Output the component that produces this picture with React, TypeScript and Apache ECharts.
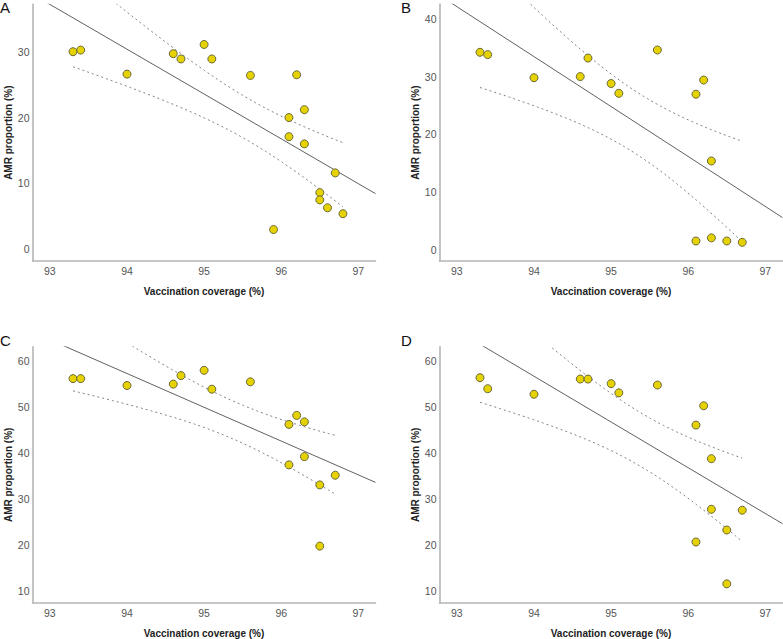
import React, { useEffect, useRef } from 'react';
import * as echarts from 'echarts';

// Panel A
const xA = [93.3, 93.4, 94.0, 94.6, 94.7, 95.0, 95.1, 95.6, 96.2, 96.1, 96.3, 96.1, 96.3, 96.7, 96.5, 96.5, 96.6, 96.8, 95.9];
const yA = [30.0, 30.25, 26.6, 29.7, 28.9, 31.1, 28.9, 26.4, 26.5, 20.0, 21.2, 17.1, 16.0, 11.6, 8.6, 7.5, 6.3, 5.4, 3.0];
// Panel B
const xB = [93.3, 93.4, 94.0, 94.6, 94.7, 95.0, 95.1, 95.6, 96.1, 96.2, 96.3, 96.1, 96.3, 96.5, 96.7];
const yB = [34.2, 33.8, 29.8, 30.0, 33.2, 28.8, 27.1, 34.6, 26.95, 29.4, 15.4, 1.56, 2.1, 1.56, 1.33];
// Panel C
const xC = [93.3, 93.4, 94.0, 94.6, 94.7, 95.0, 95.1, 95.6, 96.2, 96.1, 96.3, 96.3, 96.1, 96.7, 96.5, 96.5];
const yC = [56.1, 56.1, 54.6, 54.9, 56.75, 57.9, 53.8, 55.4, 48.1, 46.15, 46.7, 39.15, 37.35, 35.1, 33.0, 19.7];
// Panel D
const xD = [93.3, 93.4, 94.0, 94.6, 94.7, 95.0, 95.1, 95.6, 96.2, 96.1, 96.3, 96.3, 96.7, 96.5, 96.1, 96.5];
const yD = [56.3, 53.9, 52.7, 56.0, 56.0, 55.0, 53.0, 54.7, 50.2, 46.0, 38.7, 27.7, 27.5, 23.2, 20.6, 11.5];

const panelLabels = ['A', 'B', 'C', 'D'];
const xTicks = [93, 94, 95, 96, 97];
const yTicksA = [0, 10, 20, 30];
const yTicksB = [0, 10, 20, 30, 40];
const yTicksCD = [10, 20, 30, 40, 50, 60];
const xTitle = 'Vaccination coverage (%)';
const yTitle = 'AMR proportion (%)';

const FONT = '"Liberation Sans", Arial, sans-serif';

function tQuantile975(df: number) {
  const z = 1.959964;
  const z3 = z * z * z, z5 = z3 * z * z, z7 = z5 * z * z;
  return z + (z3 + z) / (4 * df) + (5 * z5 + 16 * z3 + 3 * z) / (96 * df * df) +
    (3 * z7 + 19 * z5 + 17 * z3 - 15 * z) / (384 * df * df * df);
}

function regress(xs: number[], ys: number[]) {
  const n = xs.length;
  const mx = xs.reduce((a, b) => a + b, 0) / n;
  const my = ys.reduce((a, b) => a + b, 0) / n;
  let sxx = 0, sxy = 0, syy = 0;
  for (let i = 0; i < n; i++) {
    sxx += (xs[i] - mx) ** 2;
    sxy += (xs[i] - mx) * (ys[i] - my);
    syy += (ys[i] - my) ** 2;
  }
  const b = sxy / sxx;
  const a = my - b * mx;
  const s = Math.sqrt((syy - b * sxy) / (n - 2));
  const t = tQuantile975(n - 2);
  return { n, mx, sxx, a, b, s, t, xmin: Math.min(...xs), xmax: Math.max(...xs) };
}

const panels = [
  { xs: xA, ys: yA, yTicks: yTicksA, yMin: -1.78, yMax: 37.2, left: 32.5, top: 4.3, height: 256.7 },
  { xs: xB, ys: yB, yTicks: yTicksB, yMin: -1.9, yMax: 42.5, left: 439.5, top: 4.3, height: 256.7 },
  { xs: xC, ys: yC, yTicks: yTicksCD, yMin: 7.34, yMax: 63.03, left: 32.5, top: 346.7, height: 257.3 },
  { xs: xD, ys: yD, yTicks: yTicksCD, yMin: 7.34, yMax: 63.03, left: 439.5, top: 346.7, height: 257.3 },
];
const X_MIN = 92.775;
const X_MAX = 97.222;
const GRID_W = 343;

export default function App() {
  const ref = useRef<HTMLDivElement>(null);
  useEffect(() => {
    if (!ref.current) return;
    const chart = echarts.init(ref.current, undefined, { renderer: 'svg' });
    const grids: any[] = [];
    const xAxes: any[] = [];
    const yAxes: any[] = [];
    const series: any[] = [];
    const titles: any[] = [];
    panels.forEach((p, i) => {
      grids.push({ left: p.left, top: p.top, width: GRID_W, height: p.height });
      xAxes.push({
        gridIndex: i, type: 'value', min: X_MIN, max: X_MAX,
        axisLine: { onZero: false, lineStyle: { color: '#b5b5b5', width: 1.6 } },
        axisTick: { show: false }, splitLine: { show: false },
        axisLabel: { customValues: xTicks, color: '#555', fontSize: 10.5, margin: 4, fontFamily: FONT },
        name: xTitle, nameLocation: 'middle', nameGap: 25,
        nameTextStyle: { fontWeight: 'bold', fontSize: 10, color: '#222', fontFamily: FONT },
      });
      yAxes.push({
        gridIndex: i, type: 'value', min: p.yMin, max: p.yMax,
        axisLine: { show: true, onZero: false, lineStyle: { color: '#b5b5b5', width: 1.6 } },
        axisTick: { show: false }, splitLine: { show: false },
        axisLabel: { customValues: p.yTicks, color: '#555', fontSize: 10.5, margin: 3, fontFamily: FONT },
        name: yTitle, nameLocation: 'middle', nameGap: 19,
        nameTextStyle: { fontWeight: 'bold', fontSize: 10, color: '#222', fontFamily: FONT },
      });
      const r = regress(p.xs, p.ys);
      const line = [X_MIN, X_MAX].map((x) => [x, r.a + r.b * x]);
      const upper: number[][] = [];
      const lower: number[][] = [];
      const steps = 80;
      for (let k = 0; k <= steps; k++) {
        const x = r.xmin + ((r.xmax - r.xmin) * k) / steps;
        const yh = r.a + r.b * x;
        const h = r.t * r.s * Math.sqrt(1 / r.n + (x - r.mx) ** 2 / r.sxx);
        upper.push([x, yh + h]);
        lower.push([x, yh - h]);
      }
      series.push({
        type: 'line', xAxisIndex: i, yAxisIndex: i, data: line, showSymbol: false, clip: true,
        lineStyle: { color: '#616161', width: 1 }, z: 2,
      });
      [upper, lower].forEach((d) => series.push({
        type: 'line', xAxisIndex: i, yAxisIndex: i, data: d, showSymbol: false, clip: true,
        lineStyle: { color: '#808080', width: 1, type: [2, 3] }, z: 2,
      }));
      series.push({
        type: 'scatter', xAxisIndex: i, yAxisIndex: i,
        data: p.xs.map((x, k) => [x, p.ys[k]]),
        symbolSize: 8,
        itemStyle: { color: '#e6d200', borderColor: '#6a6a3c', borderWidth: 1, opacity: 1 },
        z: 5,
      });
      titles.push({
        text: panelLabels[i],
        left: i % 2 === 0 ? 0 : 401,
        top: i < 2 ? 0 : 333,
        padding: 0,
        textStyle: { fontSize: 15, fontWeight: 'normal', color: '#111', fontFamily: FONT },
      });
    });
    chart.setOption({
      animation: false,
      backgroundColor: '#fff',
      title: titles,
      grid: grids,
      xAxis: xAxes,
      yAxis: yAxes,
      series,
    });
    return () => chart.dispose();
  }, []);
  return <div ref={ref} style={{ position: 'fixed', left: 0, top: 0, width: 783, height: 639 }} />;
}
